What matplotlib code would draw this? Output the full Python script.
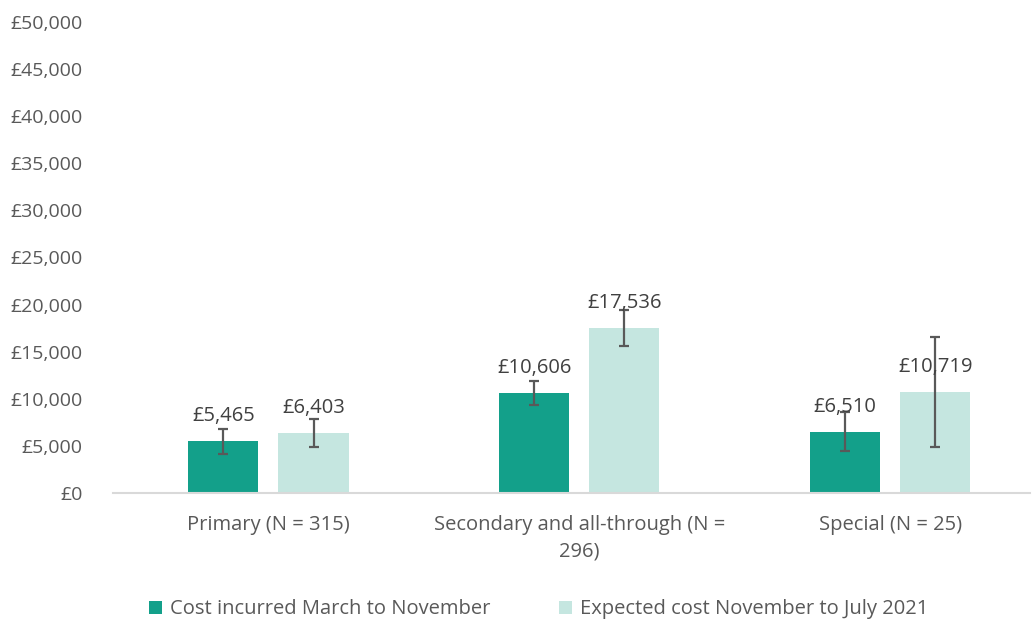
import matplotlib.pyplot as plt
from matplotlib.ticker import FuncFormatter
import numpy as np

categories = ["Primary (N = 315)", "Secondary and all-through (N =\n296)", "Special (N = 25)"]
series_names = ["Cost incurred March to November", "Expected cost November to July 2021"]
cost_incurred = [5465, 10606, 6510]
expected_cost = [6403, 17536, 10719]
# error bar half-widths
cost_err = [1300, 1300, 2050]
expected_err = [1480, 1900, 5800]

dark = "#13A08A"
light = "#C5E6E0"
grey = "#595959"

plt.rcParams["font.family"] = ["Open Sans", "DejaVu Sans"]

fig = plt.figure(figsize=(10.32, 6.19), dpi=100)
ax = fig.add_axes([0.1095, 0.2036, 0.8886, 0.7609])

x = np.arange(len(categories))
w = 0.226
off = 0.145
err_kw = dict(ecolor=grey, elinewidth=1.6, capsize=3.5, capthick=1.6)
b1 = ax.bar(x - off, cost_incurred, w, color=dark, yerr=cost_err,
            error_kw=err_kw, label=series_names[0])
b2 = ax.bar(x + off, expected_cost, w, color=light, yerr=expected_err,
            error_kw=err_kw, label=series_names[1])

for bars, vals in ((b1, cost_incurred), (b2, expected_cost)):
    for rect, v in zip(bars, vals):
        ax.annotate(f"£{v:,}", (rect.get_x() + rect.get_width() / 2, v),
                    xytext=(0, 18), textcoords="offset points",
                    ha="center", va="center", fontsize=14.5, color="#404040")

ax.set_ylim(0, 50000)
ax.set_xlim(-0.5, 2.45)
ax.set_yticks(np.arange(0, 50001, 5000))
ax.yaxis.set_major_formatter(FuncFormatter(lambda v, p: f"£{int(v):,}"))
ax.set_xticks(x)
ax.set_xticklabels(categories, linespacing=1.45)
ax.tick_params(axis="y", length=0, pad=22, labelsize=14, labelcolor=grey)
ax.tick_params(axis="x", length=0, pad=16, labelsize=14.5, labelcolor=grey)
for s in ("top", "right", "left"):
    ax.spines[s].set_visible(False)
ax.spines["bottom"].set_color("#D9D9D9")
ax.spines["bottom"].set_linewidth(1.5)

fig.legend(handles=[b1, b2], loc="lower center", bbox_to_anchor=(0.522, -0.03),
           ncol=2, frameon=False, fontsize=14.5, labelcolor=grey,
           handlelength=0.65, handleheight=0.65, handletextpad=0.4, columnspacing=3.4)

fig.savefig("out.png", dpi=100)
